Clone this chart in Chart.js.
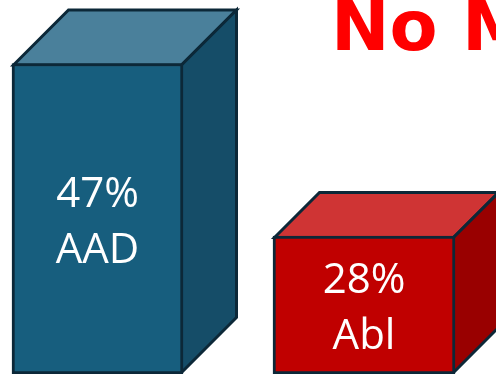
<!DOCTYPE html>
<html>
<head>
<meta charset="utf-8">
<script src="https://cdn.jsdelivr.net/npm/chart.js@4.4.1/dist/chart.umd.min.js"></script>
<style>
  html, body { margin: 0; padding: 0; background: #fff; }
  #wrap { width: 496px; height: 374px; position: relative; }
</style>
</head>
<body>
<div id="wrap"><canvas id="boxChart"></canvas></div>
<script>
const categories = ["AAD", "Abl"];
const values = [47, 28];
const valueLabels = ["47%", "28%"];
const titleText = "No M";

const yMin = 12.8;
const yMax = 54;

const frontColors = ["#175e7e", "#c00000"];
const topColors = ["#4a809b", "#cf3434"];
const sideColors = ["#154d68", "#990000"];
const edgeColor = "#0c2838";

// 3d top and side faces, drawn behind the front face
const boxFaces = {
  id: "boxFaces",
  beforeDatasetsDraw(chart) {
    const ctx = chart.ctx;
    chart.data.datasets.forEach((ds, i) => {
      const meta = chart.getDatasetMeta(i);
      meta.data.forEach((bar, j) => {
        if (ds.data[j] == null) return;
        const p = bar.getProps(["x", "y", "base", "width"], true);
        const d = ds.depth;
        const h = 1.5;
        const l = p.x - p.width / 2 + h;
        const r = p.x + p.width / 2 - h;
        const t = p.y + h;
        const b = p.base - h;
        ctx.save();
        ctx.lineWidth = 3;
        ctx.lineJoin = "miter";
        ctx.strokeStyle = edgeColor;

        ctx.beginPath();
        ctx.moveTo(l, t);
        ctx.lineTo(l + d, t - d);
        ctx.lineTo(r + d, t - d);
        ctx.lineTo(r, t);
        ctx.closePath();
        ctx.fillStyle = ds.topColor;
        ctx.fill();
        ctx.stroke();

        ctx.beginPath();
        ctx.moveTo(r, t);
        ctx.lineTo(r + d, t - d);
        ctx.lineTo(r + d, b - d);
        ctx.lineTo(r, b);
        ctx.closePath();
        ctx.fillStyle = ds.sideColor;
        ctx.fill();
        ctx.stroke();
        ctx.restore();
      });
    });
  },
  afterDatasetsDraw(chart) {
    const ctx = chart.ctx;
    chart.data.datasets.forEach((ds, i) => {
      const meta = chart.getDatasetMeta(i);
      meta.data.forEach((bar, j) => {
        if (ds.data[j] == null) return;
        const p = bar.getProps(["x", "y", "base"], true);
        const mid = (p.y + p.base) / 2 + 16;
        ctx.save();
        ctx.fillStyle = "#ffffff";
        ctx.font = "42px 'Open Sans'";
        ctx.textAlign = "center";
        ctx.textBaseline = "alphabetic";
        ctx.fillText(valueLabels[j], p.x, mid - 28);
        ctx.fillText(categories[j], p.x, mid + 28);
        ctx.restore();
      });
    });
  },
  afterDraw(chart) {
    const ctx = chart.ctx;
    ctx.save();
    ctx.fillStyle = "#ff0000";
    ctx.font = "bold 70px 'DejaVu Sans'";
    ctx.textAlign = "left";
    ctx.textBaseline = "alphabetic";
    ctx.fillText(titleText, 331, 50);
    ctx.restore();
  },
};

new Chart(document.getElementById("boxChart"), {
  type: "bar",
  data: {
    labels: categories,
    datasets: values.map((v, i) => ({
      data: values.map((w, k) => (k === i ? w : null)),
      base: yMin,
      backgroundColor: frontColors[i],
      borderColor: edgeColor,
      borderWidth: 3,
      borderSkipped: false,
      barThickness: i === 0 ? 171 : 182,
      depth: i === 0 ? 55 : 45,
      topColor: topColors[i],
      sideColor: sideColors[i],
      clip: false,
    })),
  },
  options: {
    responsive: true,
    maintainAspectRatio: false,
    animation: false,
    layout: {
      padding: { left: 97.5, right: 132, top: 0, bottom: 0 },
    },
    datasets: {
      bar: { grouped: false },
    },
    plugins: {
      legend: { display: false },
      tooltip: { enabled: false },
    },
    scales: {
      x: {
        display: false,
        offset: false,
        grid: { display: false },
      },
      y: {
        display: false,
        min: yMin,
        max: yMax,
        grid: { display: false },
      },
    },
  },
  plugins: [boxFaces],
});
</script>
</body>
</html>
